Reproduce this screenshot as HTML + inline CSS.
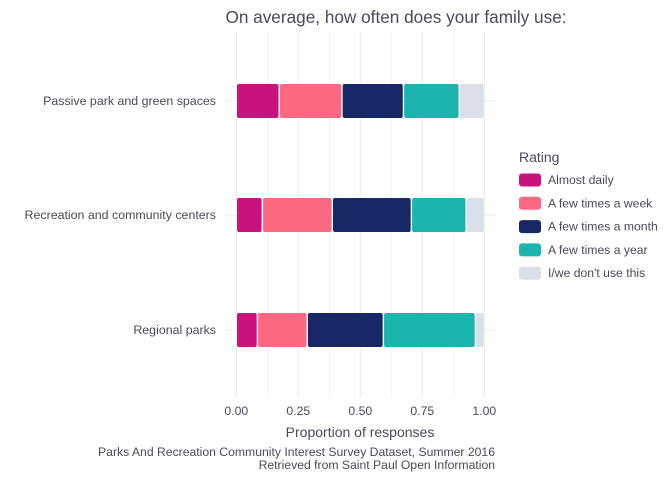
<!DOCTYPE html>
<html><head><meta charset="utf-8"><style>
body{margin:0;background:#fff;}
svg text{font-family:"Liberation Sans",sans-serif;}
</style></head><body>
<svg width="672" height="480" xmlns="http://www.w3.org/2000/svg">
<g id="grid"></g><g id="bars"></g><g id="axes"></g><g id="legend"></g>
<text x="396" y="23" text-anchor="middle" font-size="17.2" fill="#4a4a5a">On average, how often does your family use:</text>
<text x="360" y="437" text-anchor="middle" font-size="14" fill="#4a4a5a">Proportion of responses</text>
<text x="495" y="456" text-anchor="end" font-size="12.2" fill="#4a4a5a">Parks And Recreation Community Interest Survey Dataset, Summer 2016</text>
<text x="495" y="469" text-anchor="end" font-size="12.2" fill="#4a4a5a">Retrieved from Saint Paul Open Information</text>
</svg>
<script>
const categories=["Passive park and green spaces","Recreation and community centers","Regional parks"];
const ratings=["Almost daily","A few times a week","A few times a month","A few times a year","I/we don't use this"];
const colors=["#c9127b","#fd6882","#182866","#1cb5ae","#dadfea"];
const almostDaily=[0.173,0.105,0.085];
const fewWeek=[0.253,0.282,0.201];
const fewMonth=[0.248,0.319,0.307];
const fewYear=[0.225,0.221,0.371];
const dontUse=[0.101,0.073,0.036];
const xTicks=[0,0.25,0.5,0.75,1];
const xTickLabels=["0.00","0.25","0.50","0.75","1.00"];
const series=[almostDaily,fewWeek,fewMonth,fewYear,dontUse];
const NS="http://www.w3.org/2000/svg";
const x0=236.3,xs=248;
const X=v=>x0+v*xs;
const yC=[101,215,330];
const Y=i=>yC[i];
function mk(tag,attrs,parent,txt){const e=document.createElementNS(NS,tag);for(const k in attrs)e.setAttribute(k,attrs[k]);if(txt!==undefined)e.textContent=txt;document.getElementById(parent).appendChild(e);return e;}
for(let t=0;t<=8;t++){const v=t/8;
 const g=mk('line',{x1:X(v),x2:X(v),y1:32,y2:398,stroke:'#ebebeb','stroke-width':t%2?0.6:1.1},'grid');
 
 }
categories.forEach((c,i)=>{
 const g=mk('line',{x1:224,x2:497,y1:Y(i),y2:Y(i),stroke:'#ebebeb','stroke-width':1.1},'grid');
 
 
 const t=mk('text',{x:216,y:Y(i)+4,'text-anchor':'end','font-size':12.4,fill:'#4a4a5a'},'axes',c);
 
 
 let cum=0;
 series.forEach((s,j)=>{
  const r=mk('rect',{x:X(cum)+0.7,y:Y(i)-17,width:Math.max(0,s[i]*xs-1.4),height:34,rx:2,fill:colors[j]},'bars');
  
  
  cum+=s[i];
 });
});
xTicks.forEach((v,k)=>{
 const t=mk('text',{x:X(v),y:415,'text-anchor':'middle','font-size':12.2,fill:'#4a4a5a'},'axes',xTickLabels[k]);
 
 
});
const lt=mk('text',{x:519,y:162,'font-size':14,fill:'#4a4a5a'},'legend','Rating');


ratings.forEach((r,j)=>{
 const cy=180+j*23.3;
 const k=mk('rect',{x:519,y:cy-6.5,width:22,height:13,rx:3,fill:colors[j]},'legend');
 
 
 const t=mk('text',{x:548,y:cy+4,'font-size':12.2,fill:'#4a4a5a'},'legend',r);
 
 
});
</script>
</body></html>
